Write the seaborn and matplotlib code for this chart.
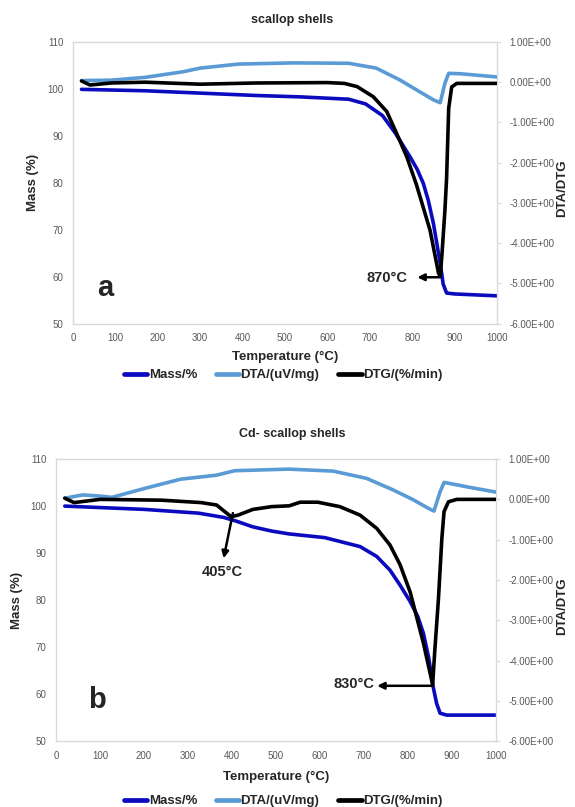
import numpy as np
import pandas as pd
import seaborn as sns
import matplotlib.pyplot as plt

## data: panel a (scallop shells)
temp_mass_a = [20, 170, 300, 430, 535, 650, 690, 730, 760, 795, 812, 826, 838, 850, 866, 873, 881, 900, 1000]
mass_a = [99.9, 99.6, 99.1, 98.6, 98.3, 97.8, 96.8, 94.3, 90.6, 85.5, 82.8, 79.9, 76.2, 71.3, 62.8, 58.4, 56.5, 56.3, 55.9]

temp_dta_a = [20, 90, 170, 260, 300, 390, 520, 650, 715, 770, 810, 850, 866, 877, 886, 913, 1000]
dta_a = [0.04, 0.05, 0.12, 0.26, 0.35, 0.45, 0.48, 0.47, 0.35, 0.06, -0.19, -0.44, -0.51, -0.03, 0.22, 0.21, 0.13]

temp_dtg_a = [20, 40, 90, 170, 300, 430, 600, 640, 670, 708, 740, 763, 787, 810, 842, 862, 866,
              870, 877, 881, 886, 893, 905, 1000]
dtg_a = [0.03, -0.07, -0.02, 0.0, -0.05, -0.02, -0.01, -0.03, -0.11, -0.36, -0.73, -1.27, -1.85,
         -2.55, -3.68, -4.75, -4.82, -4.3, -3.2, -2.4, -0.65, -0.12, -0.03, -0.03]

## data: panel b (Cd- scallop shells)
temp_mass_b = [20, 201, 324, 381, 410, 447, 490, 529, 611, 691, 729, 759, 782, 805, 822, 835, 847, 857, 865, 873, 888, 1000]
mass_b = [100.0, 99.3, 98.5, 97.6, 96.8, 95.6, 94.7, 94.1, 93.3, 91.4, 89.3, 86.4, 83.2, 79.7, 76.6, 73.0, 67.8, 61.7, 58.1, 56.0, 55.6, 55.6]

temp_dta_b = [20, 61, 102, 127, 201, 283, 365, 406, 529, 630, 706, 767, 812, 846, 859, 873, 882, 911, 939, 1000]
dta_b = [0.03, 0.11, 0.08, 0.05, 0.27, 0.5, 0.6, 0.71, 0.75, 0.70, 0.52, 0.23, -0.01, -0.22, -0.29,
         0.19, 0.42, 0.36, 0.30, 0.18]

temp_dtg_b = [20, 41, 100, 240, 330, 365, 398, 414, 447, 490, 530, 555, 595, 645, 691, 729, 759, 782,
              805, 835, 856, 861, 869, 877, 882, 892, 911, 1000]
dtg_b = [0.03, -0.08, 0.0, -0.02, -0.08, -0.14, -0.43, -0.39, -0.25, -0.18, -0.16, -0.07, -0.07, -0.18,
         -0.39, -0.72, -1.13, -1.62, -2.3, -3.56, -4.59, -3.73, -2.5, -0.96, -0.30, -0.06, 0.0, 0.0]

titles = ['scallop shells', 'Cd- scallop shells']
panel_letters = ['a', 'b']
series_names = ['Mass/%', 'DTA/(uV/mg)', 'DTG/(%/min)']

# peak annotations: (text, tail T, tail y, head T, head y, text T, text y) on the DTA/DTG axis
peaks_a = [('870°C', 866, -4.85, 812, -4.85, 740, -4.87)]
peaks_b = [('405°C', 402, -0.34, 381, -1.46, 379, -1.81),
           ('830°C', 857, -4.62, 730, -4.62, 678, -4.57)]

## style
sns.set_style('white')
plt.rcParams['font.family'] = ['Liberation Sans', 'DejaVu Sans']
plt.rcParams['axes.unicode_minus'] = False

c_mass = '#0A0ABF'
c_dta = '#5B9BD5'
c_dtg = '#000000'
c_frame = '#D9D9D9'
c_tick = '#595959'

fig = plt.figure(figsize=(5.75, 8.07), dpi=100)

panels = [
    dict(rect=[0.127, 0.5991, 0.7374, 0.3489], mass=(temp_mass_a, mass_a), dta=(temp_dta_a, dta_a),
         dtg=(temp_dtg_a, dtg_a), title_y=1 - 20 / 807, letter_pos=(76, 57.5), peaks=peaks_a,
         xlab_y=-0.098, ylab_x=-0.08, ylab2_x=1.139, leg_y=1 - 375 / 807),
    dict(rect=[0.0974, 0.0812, 0.7652, 0.35], mass=(temp_mass_b, mass_b), dta=(temp_dta_b, dta_b),
         dtg=(temp_dtg_b, dtg_b), title_y=1 - 434 / 807, letter_pos=(94, 58.8), peaks=peaks_b,
         xlab_y=-0.104, ylab_x=-0.075, ylab2_x=1.136, leg_y=1 - 801 / 807),
]

for i, p in enumerate(panels):
    ax = fig.add_axes(p['rect'])
    ax2 = ax.twinx()

    sns.lineplot(x=p['mass'][0], y=p['mass'][1], ax=ax, color=c_mass, linewidth=2.6, legend=False)
    sns.lineplot(x=p['dta'][0], y=p['dta'][1], ax=ax2, color=c_dta, linewidth=2.6, legend=False)
    sns.lineplot(x=p['dtg'][0], y=p['dtg'][1], ax=ax2, color=c_dtg, linewidth=2.6, legend=False)
    handles = [ax.lines[-1], ax2.lines[0], ax2.lines[1]]

    ax.set_xlim(0, 1000)
    ax.set_ylim(50, 110)
    ax2.set_ylim(-6, 1)
    ax.set_xticks(np.arange(0, 1001, 100))
    ax.set_yticks(np.arange(50, 111, 10))
    ax2.set_yticks(np.arange(-6, 1.01, 1))
    ax2.set_yticklabels([f'{v:.2E}' for v in np.arange(-6, 1.01, 1)])

    for s in ax.spines.values():
        s.set_color(c_frame)
        s.set_linewidth(1.0)
    for s in ax2.spines.values():
        s.set_visible(False)

    ax.tick_params(axis='both', length=0, labelsize=7, labelcolor=c_tick, pad=7)
    ax2.tick_params(axis='y', length=3, width=0.8, color=c_frame, labelsize=7,
                    labelcolor=c_tick, pad=6)

    ax.set_xlabel('Temperature (°C)', fontsize=9.5, fontweight='bold')
    ax.xaxis.set_label_coords(0.5, p['xlab_y'])
    ax.set_ylabel('Mass (%)', fontsize=9.5, fontweight='bold')
    ax.yaxis.set_label_coords(p['ylab_x'], 0.5)
    ax2.set_ylabel('DTA/DTG', fontsize=9.5, fontweight='bold')
    ax2.yaxis.set_label_coords(p['ylab2_x'], 0.48)

    fig.text(0.508, p['title_y'], titles[i], ha='center', va='center', fontsize=9, fontweight='bold')

    ax.text(p['letter_pos'][0], p['letter_pos'][1], panel_letters[i], ha='center', va='center',
            fontsize=21, fontweight='bold')

    for txt, t0, y0, t1, y1, tx, ty in p['peaks']:
        ax2.annotate('', xy=(t1, y1), xytext=(t0, y0),
                     arrowprops=dict(arrowstyle='-|>', color='black', lw=1.8, mutation_scale=10,
                                     shrinkA=0, shrinkB=0))
        ax2.text(tx, ty, txt, ha='center', va='center', fontsize=10.5, fontweight='bold')

    leg = fig.legend(handles, series_names, loc='center', bbox_to_anchor=(283 / 575, p['leg_y']),
                     ncol=3, frameon=False, handlelength=1.8, handletextpad=0.1, columnspacing=1.4,
                     prop=dict(size=9.5, weight='bold'))
    for h in leg.legend_handles:
        h.set_linewidth(3.4)

fig.savefig('out.png', dpi=100)
